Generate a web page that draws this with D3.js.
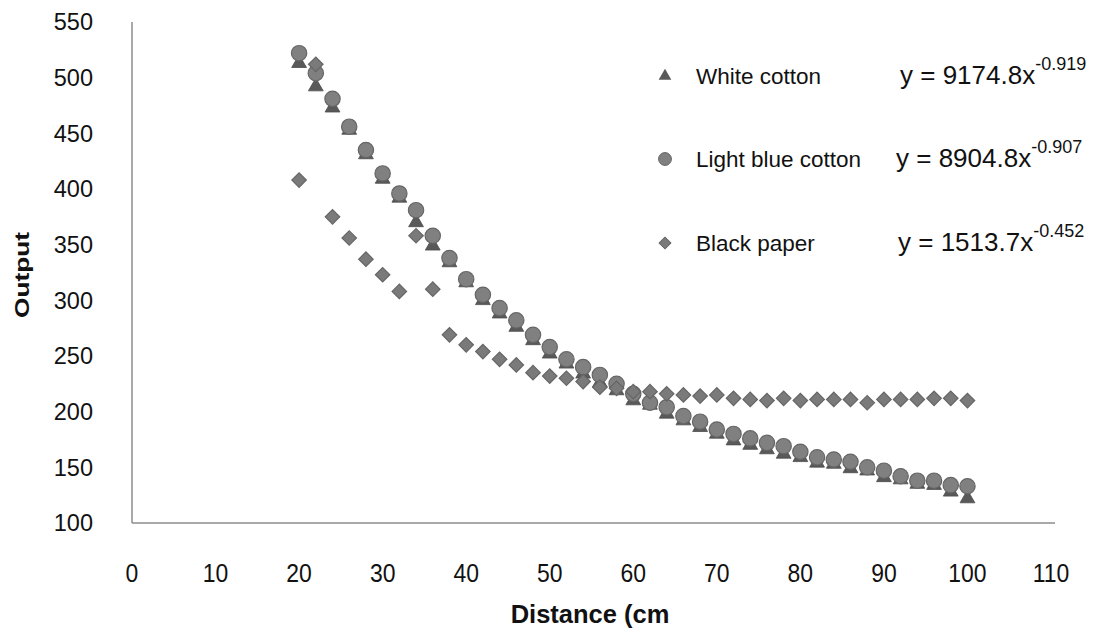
<!DOCTYPE html>
<html>
<head>
<meta charset="utf-8">
<script src="https://cdn.jsdelivr.net/npm/d3@7"></script>
<style>
  body { margin: 0; background: #fff; }
  svg { display: block; font-family: "Liberation Sans", Arial, sans-serif; }
</style>
</head>
<body>
<div id="chart"></div>
<script>
// Output vs distance for three surfaces
const distance = [20, 22, 24, 26, 28, 30, 32, 34, 36, 38, 40, 42, 44, 46, 48, 50, 52, 54, 56, 58, 60,
  62, 64, 66, 68, 70, 72, 74, 76, 78, 80, 82, 84, 86, 88, 90, 92, 94, 96, 98, 100];
const whiteCotton = [513, 492, 473, 453, 431, 409, 392, 370, 349, 334, 316, 300, 288, 276, 264, 252, 243, 234, 226, 219, 210,
  206, 198, 192, 186, 180, 174, 170, 166, 162, 159, 154, 153, 149, 147, 141, 139, 135, 134, 128, 122];
const lightBlueCotton = [522, 504, 481, 456, 435, 414, 396, 381, 358, 338, 319, 305, 293, 282, 269, 258, 247, 240, 233, 225, 216,
  208, 204, 196, 191, 184, 180, 176, 172, 169, 164, 159, 157, 155, 150, 147, 142, 138, 138, 134, 133];
const blackPaper = [408, 512, 375, 356, 337, 323, 308, 358, 310, 269, 260, 254, 247, 242, 235, 232, 230, 227, 222, 221, 218,
  218, 216, 215, 214, 215, 212, 211, 210, 212, 210, 211, 211, 211, 208, 211, 211, 211, 212, 212, 210];

const xTicks = [0, 10, 20, 30, 40, 50, 60, 70, 80, 90, 100, 110];
const yTicks = [100, 150, 200, 250, 300, 350, 400, 450, 500, 550];

const seriesNames = ['White cotton', 'Light blue cotton', 'Black paper'];
const fitCoef = ['9174.8', '8904.8', '1513.7'];
const fitExp = ['-0.919', '-0.907', '-0.452'];

const width = 1094, height = 630;
const svg = d3.select('#chart').append('svg')
  .attr('width', width)
  .attr('height', height);

const x = d3.scaleLinear().domain([0, 110]).range([132, 1051]);
const y = d3.scaleLinear().domain([100, 550]).range([523, 22]);

// axis lines (no tick marks in the original)
svg.append('line')
  .attr('x1', x(0)).attr('x2', x(0))
  .attr('y1', y(550)).attr('y2', y(100))
  .attr('stroke', '#8c8c8c').attr('stroke-width', 1.5);
svg.append('line')
  .attr('x1', x(0)).attr('x2', x(110) + 4)
  .attr('y1', y(100)).attr('y2', y(100))
  .attr('stroke', '#8c8c8c').attr('stroke-width', 1.5);

// y tick labels
svg.append('g').selectAll('text')
  .data(yTicks)
  .enter().append('text')
  .attr('x', 93)
  .attr('y', d => y(d))
  .attr('dy', '0.36em')
  .attr('text-anchor', 'end')
  .attr('font-size', 23.5)
  .attr('fill', '#111')
  .text(d => d);

// x tick labels (slightly condensed in the original)
svg.append('g').selectAll('text')
  .data(xTicks)
  .enter().append('text')
  .attr('transform', d => `translate(${x(d)},582) scale(0.9,1)`)
  .attr('text-anchor', 'middle')
  .attr('font-size', 25.5)
  .attr('fill', '#111')
  .text(d => d);

// axis titles
svg.append('text')
  .attr('x', 590).attr('y', 623)
  .attr('text-anchor', 'middle')
  .attr('font-size', 25.5)
  .attr('font-weight', 'bold')
  .attr('fill', '#111')
  .text('Distance (cm');

svg.append('text')
  .attr('transform', 'translate(29,275) rotate(-90) scale(1.25,1)')
  .attr('text-anchor', 'middle')
  .attr('font-size', 21)
  .attr('font-weight', 'bold')
  .attr('fill', '#111')
  .text('Output');

// markers
const tri = d3.symbol().type(d3.symbolTriangle).size(95);
const circ = d3.symbol().type(d3.symbolCircle).size(185);
const diam = d3.symbol().type(d3.symbolSquare).size(105);

svg.append('g').selectAll('path')
  .data(distance.map((d, i) => [d, whiteCotton[i]]))
  .enter().append('path')
  .attr('d', tri)
  .attr('transform', d => `translate(${x(d[0])},${y(d[1])})`)
  .attr('fill', '#595959')
  .attr('stroke', '#4d4d4d')
  .attr('stroke-width', 0.8);

svg.append('g').selectAll('path')
  .data(distance.map((d, i) => [d, lightBlueCotton[i]]))
  .enter().append('path')
  .attr('d', circ)
  .attr('transform', d => `translate(${x(d[0])},${y(d[1])})`)
  .attr('fill', '#808080')
  .attr('stroke', '#666')
  .attr('stroke-width', 1.2);

svg.append('g').selectAll('path')
  .data(distance.map((d, i) => [d, blackPaper[i]]))
  .enter().append('path')
  .attr('d', diam)
  .attr('transform', d => `translate(${x(d[0])},${y(d[1])}) rotate(45)`)
  .attr('fill', '#7a7a7a')
  .attr('stroke', '#666')
  .attr('stroke-width', 1.2);

// legend with fitted power-law equations
const legendY = [76, 159, 243];
const legendSym = [
  { sym: d3.symbol().type(d3.symbolTriangle).size(70), rot: 0, fill: '#595959' },
  { sym: d3.symbol().type(d3.symbolCircle).size(130), rot: 0, fill: '#808080' },
  { sym: d3.symbol().type(d3.symbolSquare).size(70), rot: 45, fill: '#7a7a7a' }
];
const eqX = [900, 896, 898];

const legend = svg.append('g');
seriesNames.forEach((name, i) => {
  legend.append('path')
    .attr('d', legendSym[i].sym)
    .attr('transform', `translate(665,${legendY[i]}) rotate(${legendSym[i].rot})`)
    .attr('fill', legendSym[i].fill)
    .attr('stroke', '#666')
    .attr('stroke-width', i === 0 ? 0 : 1);

  legend.append('text')
    .attr('x', 696)
    .attr('y', legendY[i] + 8)
    .attr('font-size', 22.5)
    .attr('fill', '#111')
    .text(name);

  const eq = legend.append('text')
    .attr('x', eqX[i])
    .attr('y', legendY[i] + 8)
    .attr('font-size', 26)
    .attr('fill', '#111');
  eq.append('tspan').text(`y = ${fitCoef[i]}x`);
  eq.append('tspan')
    .attr('dy', -14)
    .attr('font-size', 18)
    .text(fitExp[i]);
});
</script>
</body>
</html>
